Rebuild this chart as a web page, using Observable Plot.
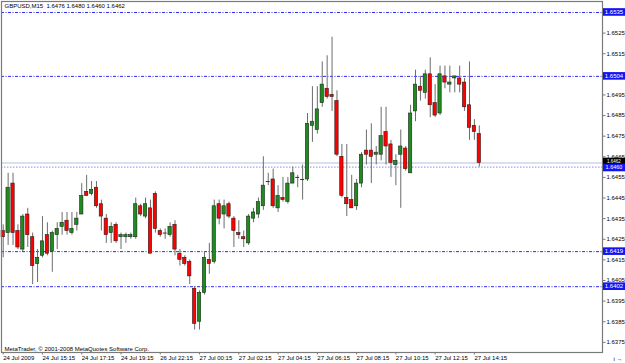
<!DOCTYPE html>
<html><head><meta charset="utf-8">
<script src="https://cdn.jsdelivr.net/npm/d3@7"></script>
<script src="https://cdn.jsdelivr.net/npm/@observablehq/plot@0.6"></script>
<style>
html,body{margin:0;padding:0;background:#fff;}
#chart{width:625px;height:363px;overflow:hidden;}
svg{display:block;}
</style></head><body><div id="chart"></div>
<script>
const symbolName = "GBPUSD,M15";
const copyright = "MetaTrader, © 2001-2008 MetaQuotes Software Corp.";
const opens  = [1.6429,1.6428,1.6452,1.6429,1.6420,1.6437,1.6426,1.6413,1.6417,1.6427,
                1.6419,1.6427,1.6431,1.6434,1.6428,1.6432,1.6437,1.6448,1.6447,1.6450,
                1.6442,1.6435,1.6428,1.6432,1.6426,1.6426,1.6426,1.6426,1.6441,1.6436,
                1.6440,1.6447,1.6429,1.6428,1.6427,1.6432,1.6418,1.6416,1.6414,1.6401,
                1.6385,1.6399,1.6415,1.6414,1.6442,1.6437,1.6442,1.6435,1.6428,1.6426,
                1.6423,1.6435,1.6437,1.6441,1.6453,1.6454,1.6440,1.6445,1.6443,1.6452,
                1.6455,1.6454,1.6454,1.6480,1.6478,1.6491,1.6498,1.6495,1.6492,1.6465,
                1.6445,1.6444,1.6441,1.6452,1.6468,1.6468,1.6466,1.6466,1.6477,1.6471,
                1.6461,1.6466,1.6469,1.6457,1.6487,1.6499,1.6496,1.6505,1.6491,1.6486,
                1.6504,1.6500,1.6503,1.6503,1.6501,1.6490,1.6480,1.6476];
const highs  = [1.6432,1.6457,1.6457,1.6432,1.6437,1.6440,1.6428,1.6420,1.6436,1.6433,
                1.6429,1.6433,1.6438,1.6438,1.6438,1.6438,1.6452,1.6456,1.6453,1.6453,
                1.6444,1.6437,1.6433,1.6433,1.6428,1.6428,1.6428,1.6445,1.6442,1.6445,
                1.6444,1.6448,1.6430,1.6430,1.6433,1.6434,1.6420,1.6417,1.6415,1.6402,
                1.6400,1.6419,1.6423,1.6444,1.6444,1.6444,1.6443,1.6436,1.6434,1.6429,
                1.6437,1.6440,1.6445,1.6465,1.6457,1.6459,1.6451,1.6455,1.6455,1.6460,
                1.6456,1.6461,1.6486,1.6499,1.6499,1.6511,1.6514,1.6523,1.6497,1.6471,
                1.6471,1.6456,1.6454,1.6467,1.6478,1.6481,1.6470,1.6489,1.6489,1.6473,
                1.6466,1.6478,1.6470,1.6490,1.6507,1.6504,1.6507,1.6513,1.6500,1.6509,
                1.6509,1.6509,1.6504,1.6509,1.6503,1.6511,1.6483,1.6480];
const lows   = [1.6416,1.6422,1.6422,1.6420,1.6419,1.6421,1.6403,1.6404,1.6416,1.6417,
                1.6409,1.6420,1.6427,1.6427,1.6427,1.6429,1.6437,1.6446,1.6446,1.6440,
                1.6429,1.6423,1.6423,1.6423,1.6420,1.6423,1.6425,1.6425,1.6436,1.6435,
                1.6418,1.6428,1.6426,1.6425,1.6426,1.6417,1.6412,1.6412,1.6403,1.6381,
                1.6381,1.6398,1.6408,1.6413,1.6432,1.6430,1.6435,1.6421,1.6425,1.6421,
                1.6422,1.6433,1.6435,1.6439,1.6451,1.6440,1.6438,1.6443,1.6442,1.6452,
                1.6450,1.6444,1.6453,1.6472,1.6476,1.6489,1.6493,1.6487,1.6465,1.6445,
                1.6436,1.6440,1.6439,1.6450,1.6461,1.6452,1.6461,1.6463,1.6461,1.6455,
                1.6451,1.6440,1.6458,1.6457,1.6482,1.6492,1.6493,1.6484,1.6484,1.6485,
                1.6498,1.6496,1.6496,1.6496,1.6487,1.6473,1.6473,1.6460];
const closes = [1.6426,1.6450,1.6428,1.6421,1.6436,1.6427,1.6412,1.6416,1.6424,1.6418,
                1.6428,1.6430,1.6433,1.6429,1.6430,1.6435,1.6446,1.6446,1.6449,1.6441,
                1.6436,1.6427,1.6431,1.6424,1.6427,1.6427,1.6427,1.6442,1.6437,1.6442,
                1.6418,1.6430,1.6427,1.6428,1.6431,1.6420,1.6415,1.6413,1.6407,1.6384,
                1.6399,1.6416,1.6413,1.6441,1.6435,1.6441,1.6436,1.6429,1.6427,1.6425,
                1.6436,1.6438,1.6443,1.6451,1.6453,1.6441,1.6446,1.6444,1.6452,1.6457,
                1.6455,1.6454,1.6481,1.6482,1.6488,1.6500,1.6494,1.6494,1.6466,1.6446,
                1.6442,1.6440,1.6452,1.6466,1.6466,1.6465,1.6467,1.6475,1.6470,1.6462,
                1.6463,1.6470,1.6459,1.6486,1.6500,1.6497,1.6505,1.6490,1.6485,1.6505,
                1.6501,1.6501,1.6504,1.6500,1.6489,1.6479,1.6477,1.6462];
const tickIndex  = [0,8,16,24,32,40,48,56,64,72,80,88,96];
const tickLabels = ["24 Jul 2009","24 Jul 15:15","24 Jul 17:15","24 Jul 19:15","26 Jul 22:15",
                    "27 Jul 00:15","27 Jul 02:15","27 Jul 04:15","27 Jul 06:15","27 Jul 08:15",
                    "27 Jul 10:15","27 Jul 12:15","27 Jul 14:15"];
const priceTicks = [1.6375,1.6385,1.6395,1.6405,1.6415,1.6425,1.6435,1.6445,1.6455,1.6465,
                    1.6475,1.6485,1.6495,1.6505,1.6515,1.6525,1.6535];
const hiddenTickLabels = [1.6505,1.6535]; // covered by the level boxes
const dashedLevels = [1.6535,1.6504,1.6419,1.6402];
const bidLevel = 1.6462;
const askLevel = 1.6460;

const candles = opens.map((o,i)=>({i, o, h:highs[i], l:lows[i], c:closes[i]}));
const ups = candles.filter(d=>d.c>d.o);
const downs = candles.filter(d=>d.c<d.o);
const dojis = candles.filter(d=>d.c===d.o);
const last = candles[candles.length-1];
const title = `${symbolName}  ${last.o.toFixed(4)} ${last.h.toFixed(4)} ${last.l.toFixed(4)} ${last.c.toFixed(4)}`;
const FONT = "Liberation Sans, Arial, sans-serif";

const plot = Plot.plot({
  width: 625, height: 363,
  marginLeft: 1, marginRight: 23, marginTop: 1, marginBottom: 11,
  style: {fontFamily: FONT, fontSize: "6px", background: "#ffffff", color: "#000"},
  x: {type: "linear", domain: [-0.35, 122.1]},
  y: {type: "linear", domain: [1.637008, 1.654032]},
  marks: [
    Plot.ruleY(dashedLevels, {stroke: "#2a2af2", strokeWidth: 1, strokeDasharray: "3,1.5,1,1.5"}),
    Plot.ruleY([bidLevel], {stroke: "#b8c0d6", strokeWidth: 1}),
    Plot.ruleY([askLevel], {stroke: "#8888f6", strokeWidth: 1, strokeDasharray: "1.5,1.5"}),
    Plot.ruleX(candles, {x: "i", y1: "l", y2: "h", stroke: "#6c6c6c", strokeWidth: 1}),
    Plot.rect(ups, {x1: d=>d.i-0.34, x2: d=>d.i+0.34, y1: "o", y2: "c", fill: "#1f8a1f", stroke: "#1c2a1c", strokeWidth: 0.6}),
    Plot.rect(downs, {x1: d=>d.i-0.34, x2: d=>d.i+0.34, y1: "o", y2: "c", fill: "#ff0000", stroke: "#2a1a1a", strokeWidth: 0.6}),
    Plot.ruleY(dojis, {y: "o", x1: d=>d.i-0.4, x2: d=>d.i+0.4, stroke: "#333", strokeWidth: 1}),
    Plot.frame({stroke: "#7a7a7a", strokeWidth: 1.2}),
    Plot.axisY({anchor: "right", ticks: priceTicks, tickSize: 2.5, tickPadding: 1.5,
                tickFormat: d=>hiddenTickLabels.includes(d) ? "" : d.toFixed(4), fontSize: 6, stroke: "#7a7a7a"}),
    Plot.axisX({anchor: "bottom", ticks: tickIndex, tickSize: 2.5, tickPadding: 1,
                tickFormat: d=>tickLabels[tickIndex.indexOf(d)], textAnchor: "start",
                fontSize: 6, stroke: "#7a7a7a"}),
    Plot.text([title], {frameAnchor: "top-left", dx: 3, dy: 2, fontSize: 6, fill: "#000"}),
    Plot.text([copyright], {frameAnchor: "bottom-left", dx: 3, dy: -2, fontSize: 6, fill: "#000"})
  ]
});
document.getElementById("chart").appendChild(plot);

// price-level label boxes on the right axis, positioned with the plot's y scale
const ys = plot.scale("y");
const boxes = [
  ...dashedLevels.map(v=>({v, fill:"#1414f0", size:6, shift:0})),
  {v: bidLevel, fill: "#000000", size:4.5, shift:-1},
  {v: askLevel, fill: "#1414f0", size:5.5, shift:0.9}
];
const svg = d3.select(plot);
const g = svg.append("g").attr("font-family", FONT);
for (const b of boxes) {
  const yy = ys.apply(b.v) + b.shift;
  g.append("rect").attr("x", 603).attr("y", yy - 3.8).attr("width", 22).attr("height", 7.6).attr("fill", b.fill);
  g.append("text").attr("x", 614).attr("y", yy).attr("dy", "0.35em").attr("text-anchor", "middle")
    .attr("font-size", b.size).attr("fill", "#fff").text(b.v.toFixed(4));
}
</script></body></html>
